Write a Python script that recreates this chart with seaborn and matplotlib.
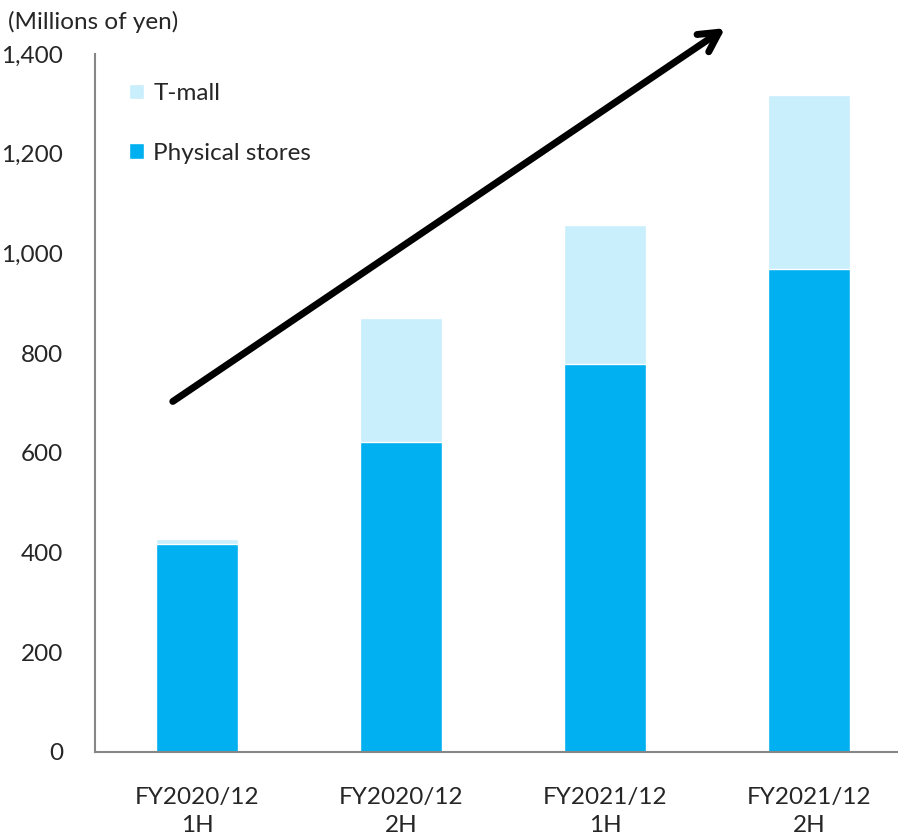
import matplotlib.pyplot as plt
import seaborn as sns
import pandas as pd
import numpy as np

periods = ['FY2020/12\n1H', 'FY2020/12\n2H', 'FY2021/12\n1H', 'FY2021/12\n2H']
physical = [417, 621, 778, 969]
tmall = [10, 249, 280, 349]

sns.set_style('white')
plt.rcParams['font.family'] = ['Lato', 'DejaVu Sans']

df = pd.DataFrame({'Period': periods, 'Physical stores': physical, 'T-mall': tmall})
df['Total'] = df['Physical stores'] + df['T-mall']

fig = plt.figure(figsize=(8.98, 8.36), dpi=100)
# axes runs past the right edge of the figure like in the original
ax = fig.add_axes([95 / 898, (836 - 752) / 836, 816 / 898, 698 / 836])

light = '#C9EEFC'
blue = '#00B0F0'
sns.barplot(data=df, x='Period', y='Total', color=light, width=0.4, saturation=1, ax=ax, label='T-mall')
sns.barplot(data=df, x='Period', y='Physical stores', color=blue, width=0.4, saturation=1, ax=ax, label='Physical stores')

ax.set_xlim(-0.5, 3.5)
ax.set_ylim(0, 1400)
ax.set_xlabel('')
ax.set_ylabel('')

axis_col = '#868686'
for s in ['top', 'right']:
    ax.spines[s].set_visible(False)
for s in ['left', 'bottom']:
    ax.spines[s].set_color(axis_col)
    ax.spines[s].set_linewidth(1.5)

fs = 17.5
ax.set_yticks(np.arange(0, 1401, 200))
ax.set_yticklabels([f'{v:,}' for v in range(0, 1401, 200)])
ax.tick_params(axis='y', direction='out', length=7, width=1.5, color=axis_col, pad=16, labelsize=fs)

ax.set_xticks(range(4))
ax.set_xticklabels(periods, linespacing=1.45)
ax.set_xticks([-0.5, 0.5, 1.5, 2.5], minor=True)
ax.tick_params(axis='x', which='major', length=0, pad=25, labelsize=fs)
ax.tick_params(axis='x', which='minor', direction='out', length=8, width=1.5, color=axis_col)

# upward trend arrow
ax.annotate('', xy=(2.6, 1455), xytext=(-0.13, 700), annotation_clip=False,
            arrowprops=dict(arrowstyle='->,head_length=1.4,head_width=0.75', lw=5, color='black'))

handles, labels = ax.get_legend_handles_labels()
ax.legend(handles, labels, loc='upper left', bbox_to_anchor=(0.015, 0.99), frameon=False,
          fontsize=fs, handlelength=0.6, handleheight=0.6, handletextpad=0.4, labelspacing=1.6)

fig.text(8 / 898, 1 - 22 / 836, '(Millions of yen)', fontsize=fs, va='center', ha='left')

fig.savefig('out.png', dpi=100)
